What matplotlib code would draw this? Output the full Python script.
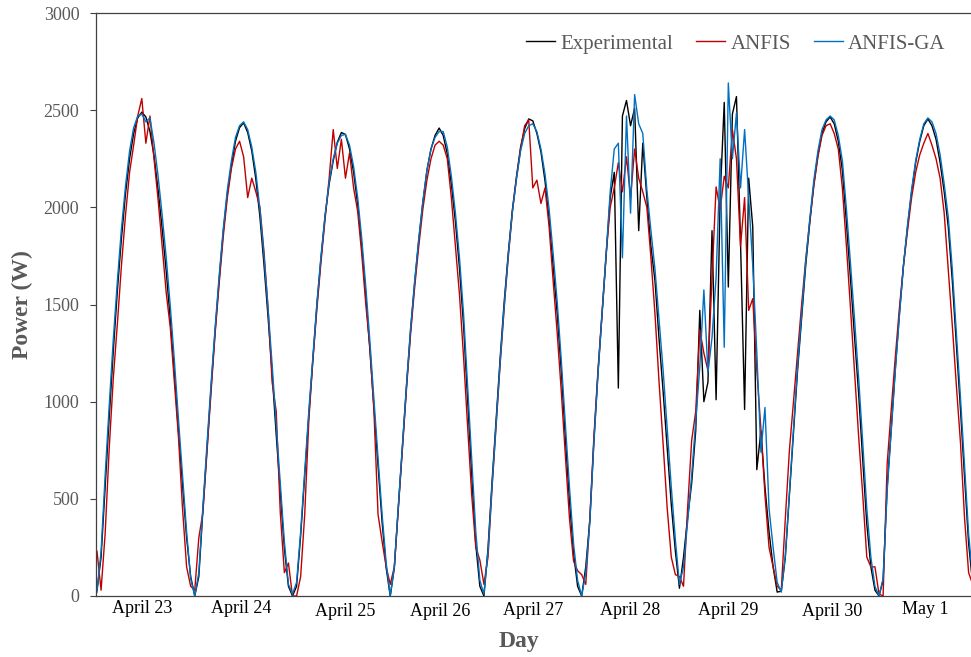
import numpy as np
import matplotlib
matplotlib.use("Agg")
import matplotlib.pyplot as plt
import matplotlib.transforms as mtransforms

plt.rcParams["font.family"] = ["Liberation Serif", "DejaVu Serif"]

days = ["April 23", "April 24", "April 25", "April 26", "April 27",
        "April 28", "April 29", "April 30", "May 1"]

# 24 readings per day (sunrise trough -> sunset trough), W
experimental = [
    [30, 200, 560, 920, 1260, 1570, 1840, 2070, 2250, 2380, 2460, 2490, 2465, 2390, 2265, 2090, 1890, 1670, 1420, 1145, 845, 575, 300, 100],
    [0, 100, 440, 755, 1070, 1365, 1630, 1875, 2070, 2215, 2340, 2410, 2435, 2385, 2290, 2145, 1950, 1705, 1435, 1145, 830, 535, 245, 50],
    [0, 50, 310, 620, 930, 1215, 1500, 1740, 1955, 2120, 2240, 2335, 2385, 2375, 2300, 2180, 2015, 1800, 1540, 1265, 965, 670, 380, 145],
    [0, 145, 460, 770, 1085, 1370, 1615, 1830, 2025, 2190, 2300, 2370, 2408, 2370, 2275, 2120, 1925, 1685, 1390, 1010, 625, 265, 50, 0],
    [245, 590, 910, 1230, 1520, 1770, 1990, 2160, 2310, 2405, 2455, 2445, 2380, 2285, 2135, 1940, 1695, 1450, 1155, 810, 490, 220, 50, 0],
    [150, 390, 800, 1150, 1450, 1750, 2050, 2180, 1070, 2470, 2550, 2420, 2510, 1880, 2330, 2050, 1800, 1620, 1320, 1050, 760, 470, 230, 40],
    [200, 400, 580, 850, 1470, 1000, 1100, 1880, 1010, 2050, 2540, 1590, 2480, 2570, 1820, 960, 2150, 1900, 650, 850, 560, 330, 150, 20],
    [25, 200, 520, 840, 1160, 1430, 1700, 1920, 2120, 2270, 2380, 2440, 2465, 2430, 2340, 2190, 1920, 1630, 1330, 1040, 700, 370, 150, 30],
    [0, 80, 560, 860, 1170, 1450, 1700, 1900, 2080, 2230, 2340, 2420, 2455, 2420, 2350, 2230, 2080, 1900, 1620, 1290, 960, 610, 270, 60],
]

anfis = [
    [230, 30, 320, 760, 1120, 1400, 1700, 1960, 2180, 2320, 2470, 2560, 2330, 2470, 2250, 2040, 1800, 1560, 1380, 1100, 820, 450, 150, 50],
    [30, 300, 430, 740, 1050, 1350, 1610, 1850, 2050, 2200, 2300, 2340, 2260, 2050, 2150, 2080, 2000, 1770, 1480, 1100, 950, 430, 120, 170],
    [0, 0, 100, 420, 900, 1215, 1480, 1720, 1940, 2150, 2400, 2200, 2350, 2150, 2280, 2100, 1980, 1760, 1500, 1280, 950, 420, 280, 150],
    [60, 150, 460, 760, 1070, 1350, 1590, 1800, 1990, 2140, 2250, 2320, 2340, 2320, 2250, 2050, 1800, 1550, 1230, 870, 520, 250, 185, 60],
    [200, 560, 880, 1200, 1490, 1750, 1980, 2150, 2300, 2420, 2450, 2100, 2140, 2020, 2100, 1900, 1620, 1350, 1050, 720, 400, 180, 130, 110],
    [60, 400, 820, 1160, 1460, 1760, 2000, 2100, 2230, 2080, 2260, 2050, 2300, 2150, 2080, 2000, 1740, 1450, 1100, 780, 450, 200, 110, 100],
    [50, 450, 800, 950, 1370, 1250, 1160, 1640, 2105, 1990, 2160, 2100, 2400, 2250, 1800, 2050, 1470, 1530, 1160, 860, 520, 250, 150, 50],
    [30, 400, 750, 1000, 1250, 1500, 1730, 1930, 2110, 2260, 2370, 2420, 2430, 2380, 2300, 2100, 1800, 1480, 1150, 820, 520, 200, 150, 150],
    [10, 0, 680, 960, 1230, 1480, 1700, 1880, 2050, 2180, 2270, 2330, 2380, 2320, 2250, 2150, 1970, 1680, 1390, 1080, 790, 400, 120, 60],
]

anfis_ga = [
    [20, 230, 620, 980, 1320, 1620, 1890, 2110, 2290, 2410, 2470, 2480, 2440, 2460, 2330, 2160, 1960, 1740, 1490, 1210, 910, 620, 330, 90],
    [0, 120, 460, 780, 1090, 1380, 1650, 1890, 2090, 2240, 2360, 2420, 2440, 2400, 2310, 2180, 1990, 1750, 1480, 1190, 880, 580, 280, 60],
    [10, 70, 330, 640, 950, 1230, 1510, 1750, 1960, 2130, 2250, 2330, 2370, 2375, 2320, 2210, 2050, 1840, 1590, 1310, 1010, 710, 420, 170],
    [0, 150, 470, 780, 1090, 1380, 1620, 1840, 2030, 2190, 2300, 2360, 2390, 2390, 2310, 2160, 1970, 1740, 1450, 1080, 700, 330, 80, 10],
    [230, 570, 890, 1210, 1500, 1760, 1980, 2150, 2290, 2380, 2420, 2430, 2390, 2300, 2170, 1990, 1760, 1510, 1210, 880, 560, 270, 80, 0],
    [120, 380, 790, 1140, 1450, 1760, 2080, 2300, 2330, 1740, 2470, 1970, 2580, 2430, 2380, 2090, 1880, 1680, 1420, 1160, 860, 560, 290, 60],
    [150, 380, 620, 900, 1180, 1575, 1150, 1330, 1640, 2250, 1280, 2640, 2250, 2485, 2100, 2400, 2050, 1700, 1250, 740, 970, 450, 250, 70],
    [20, 210, 530, 860, 1180, 1450, 1720, 1940, 2140, 2290, 2400, 2450, 2470, 2450, 2370, 2240, 1990, 1710, 1420, 1120, 790, 450, 200, 50],
    [0, 90, 540, 850, 1160, 1440, 1700, 1910, 2090, 2240, 2350, 2430, 2460, 2440, 2380, 2270, 2120, 1950, 1680, 1350, 1020, 670, 320, 90],
]

# where each day label sits (in days) and its small vertical offset
label_pos = [0.46, 1.47, 2.54, 3.51, 4.46, 5.45, 6.46, 7.52, 8.47]
label_dy = [-0.021, -0.022, -0.027, -0.027, -0.025, -0.025, -0.025, -0.027, -0.024]

series = {
    "Experimental": (experimental, "#000000"),
    "ANFIS": (anfis, "#C00000"),
    "ANFIS-GA": (anfis_ga, "#0070C0"),
}

GRAY = "#595959"

fig = plt.figure(figsize=(9.71, 6.57), dpi=100)
ax = fig.add_axes([96 / 971, 1 - 596 / 657, 875 / 971, 583 / 657])

for name, (vals, col) in series.items():
    y = np.concatenate([np.array(d, dtype=float) for d in vals])
    t = np.arange(len(y)) / 24.0
    ax.plot(t, y, color=col, linewidth=1.0, label=name)

ax.set_xlim(-0.0102, 8.941)
ax.set_ylim(0, 3000)
ax.set_yticks(np.arange(0, 3001, 500))
ax.set_xticks([])
ax.tick_params(axis="y", direction="out", length=4, width=0.8,
               colors="#404040", labelcolor=GRAY, labelsize=13, pad=8)

for side in ["left", "bottom", "top"]:
    ax.spines[side].set_color("#404040")
    ax.spines[side].set_linewidth(0.9)
ax.spines["right"].set_visible(False)

trans = mtransforms.blended_transform_factory(ax.transData, ax.transAxes)
for lab, xp, dy in zip(days, label_pos, label_dy):
    ax.text(xp, dy, lab, transform=trans, ha="center", va="center",
            fontsize=13, color="black")

fig.text(22 / 971, 1 - 305 / 657, "Power (W)", rotation=90, ha="center",
         va="center", fontsize=17, fontweight="bold", color=GRAY)
fig.text(519 / 971, 1 - 641 / 657, "Day", ha="center", va="center",
         fontsize=17, fontweight="bold", color=GRAY)

leg = ax.legend(loc="center left", bbox_to_anchor=(526 / 971, 1 - 44 / 657),
                bbox_transform=fig.transFigure, ncol=3, frameon=False,
                fontsize=15, handlelength=1.4, handletextpad=0.25,
                columnspacing=1.1, borderpad=0, borderaxespad=0)
for txt in leg.get_texts():
    txt.set_color(GRAY)

fig.savefig("out.png", dpi=100)
